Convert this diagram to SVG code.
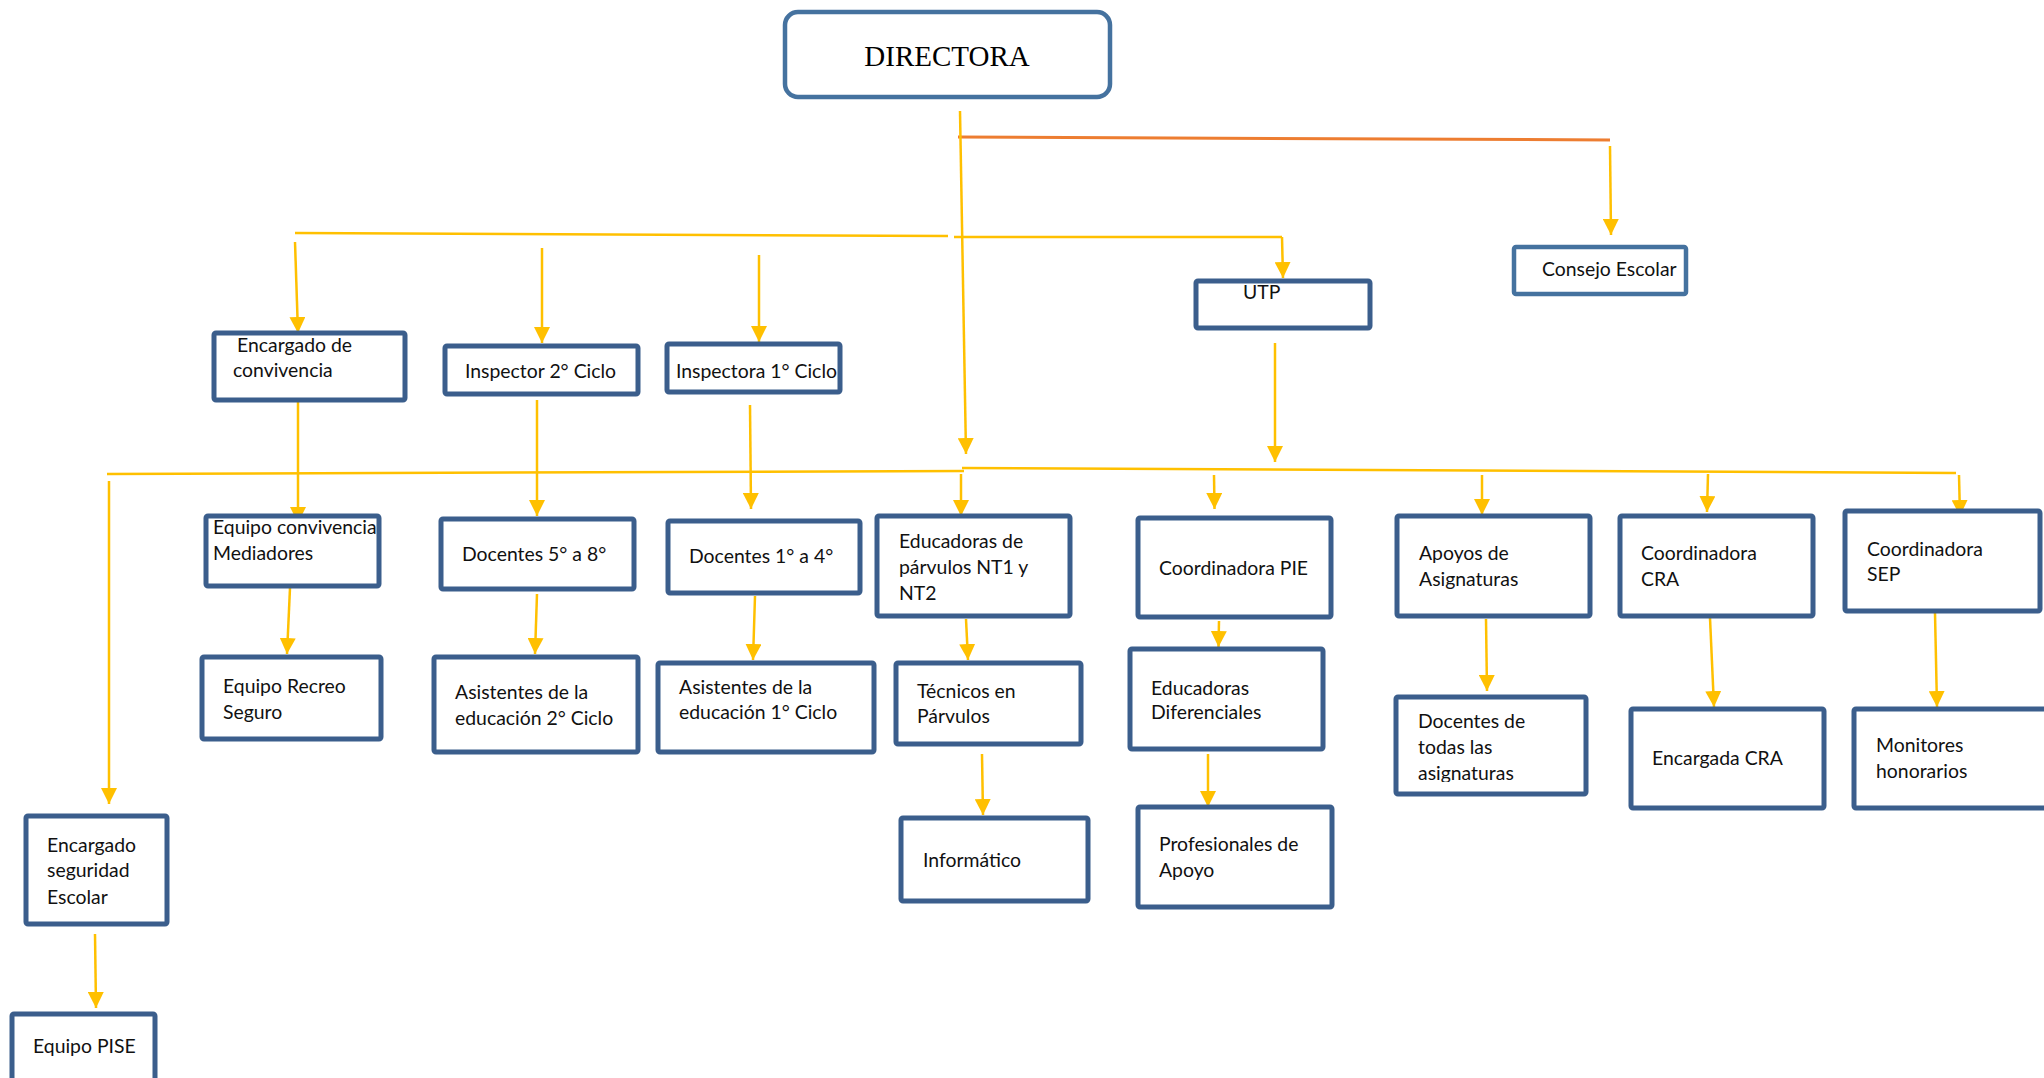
<svg xmlns="http://www.w3.org/2000/svg" width="2044" height="1078" viewBox="0 0 2044 1078">
<defs>
<style>
.box{fill:#ffffff;stroke:#3b5e8c;stroke-width:5;}
.top{fill:#ffffff;stroke:#45729f;stroke-width:4.5;}
.t{font-family:Lato,"Liberation Sans",sans-serif;font-size:19.4px;fill:#111111;}
.dir{font-family:"Liberation Serif","Times New Roman",serif;font-size:29px;fill:#000000;}
.y{stroke:#ffc000;stroke-width:2.5;fill:none;}
.ya{stroke:#ffc000;stroke-width:2.5;fill:none;marker-end:url(#ah);}
.o{stroke:#ed7d31;stroke-width:3;fill:none;}
</style>
<marker id="ah" markerUnits="userSpaceOnUse" markerWidth="16" markerHeight="16" viewBox="0 0 16 16" refX="16" refY="8" orient="auto">
<path d="M0,0 L16,8 L0,16 z" fill="#ffc000"/>
</marker>
<clipPath id="clipDoc"><rect x="1396" y="697" width="190" height="85"/></clipPath>
</defs>

<g id="connectors">
<line class="o" x1="958" y1="137" x2="1610" y2="140"/>
<line class="ya" x1="960" y1="111" x2="966" y2="454"/>
<line class="ya" x1="1610" y1="146" x2="1611" y2="235"/>
<line class="y" x1="295" y1="233" x2="948" y2="236"/>
<polyline class="y" points="954,237 1282,237"/>
<line class="ya" x1="1282" y1="237" x2="1283" y2="278"/>
<line class="ya" x1="295" y1="242" x2="298" y2="333"/>
<line class="ya" x1="542" y1="248" x2="542" y2="343"/>
<line class="ya" x1="759" y1="255" x2="759" y2="342"/>
<line class="ya" x1="1275" y1="343" x2="1275" y2="462"/>
<line class="y" x1="107" y1="474" x2="964" y2="471"/>
<line class="y" x1="962" y1="468" x2="1956" y2="473"/>
<line class="ya" x1="109" y1="481" x2="109" y2="804"/>
<line class="ya" x1="298" y1="386" x2="298" y2="523"/>
<line class="ya" x1="290" y1="588" x2="287" y2="654"/>
<line class="ya" x1="537" y1="400" x2="537" y2="516"/>
<line class="ya" x1="537" y1="594" x2="535" y2="654"/>
<line class="ya" x1="750" y1="405" x2="751" y2="509"/>
<line class="ya" x1="755" y1="596" x2="753" y2="660"/>
<line class="ya" x1="961" y1="474" x2="961" y2="516"/>
<line class="ya" x1="966" y1="619" x2="968" y2="660"/>
<line class="ya" x1="982" y1="754" x2="983" y2="815"/>
<line class="ya" x1="1214" y1="475" x2="1214.5" y2="509"/>
<line class="ya" x1="1219" y1="621" x2="1218.5" y2="647"/>
<line class="ya" x1="1208" y1="754" x2="1208" y2="807"/>
<line class="ya" x1="1482" y1="475" x2="1482" y2="515"/>
<line class="ya" x1="1486" y1="619" x2="1487" y2="691"/>
<line class="ya" x1="1708" y1="474" x2="1707" y2="512"/>
<line class="ya" x1="1710" y1="618" x2="1714" y2="707"/>
<line class="ya" x1="1959" y1="475" x2="1960" y2="516"/>
<line class="ya" x1="1935" y1="613" x2="1937" y2="707"/>
<line class="ya" x1="95" y1="934" x2="96" y2="1008"/>
</g>

<g id="directora">
<rect class="top" x="785" y="12" width="325" height="85" rx="13"/>
<text class="dir" x="947" y="66" text-anchor="middle">DIRECTORA</text>
</g>
<g id="consejo-escolar">
<rect class="top" x="1514" y="247" width="172" height="47" rx="2"/>
<text class="t" x="1542" y="276">Consejo Escolar</text>
</g>
<g id="utp">
<rect class="box" x="1196" y="281" width="174" height="47" rx="2"/>
<text class="t" x="1243" y="299">UTP</text>
</g>
<g id="encargado-convivencia">
<rect class="box" x="214" y="333" width="191" height="67" rx="2"/>
<text class="t" x="237" y="352">Encargado de</text>
<text class="t" x="233" y="377">convivencia</text>
</g>
<g id="inspector-2">
<rect class="box" x="445" y="346" width="193" height="48" rx="2"/>
<text class="t" x="465" y="378">Inspector 2° Ciclo</text>
</g>
<g id="inspectora-1">
<rect class="box" x="667" y="344" width="173" height="48" rx="2"/>
<text class="t" x="676" y="378">Inspectora 1° Ciclo</text>
</g>
<g id="equipo-convivencia">
<rect class="box" x="206" y="516" width="173" height="70" rx="2"/>
<text class="t" x="213" y="534">Equipo convivencia</text>
<text class="t" x="213" y="560">Mediadores</text>
</g>
<g id="equipo-recreo">
<rect class="box" x="202" y="657" width="179" height="82" rx="2"/>
<text class="t" x="223" y="693">Equipo Recreo</text>
<text class="t" x="223" y="719">Seguro</text>
</g>
<g id="docentes-5-8">
<rect class="box" x="441" y="519" width="193" height="70" rx="2"/>
<text class="t" x="462" y="561">Docentes 5° a 8°</text>
</g>
<g id="asistentes-2">
<rect class="box" x="434" y="657" width="204" height="95" rx="2"/>
<text class="t" x="455" y="699">Asistentes de la</text>
<text class="t" x="455" y="725">educación 2° Ciclo</text>
</g>
<g id="encargado-seguridad">
<rect class="box" x="26" y="816" width="141" height="108" rx="2"/>
<text class="t" x="47" y="852">Encargado</text>
<text class="t" x="47" y="877">seguridad</text>
<text class="t" x="47" y="904">Escolar</text>
</g>
<g id="equipo-pise">
<rect class="box" x="12" y="1014" width="143" height="80" rx="2"/>
<text class="t" x="33" y="1053">Equipo PISE</text>
</g>
<g id="docentes-1-4">
<rect class="box" x="668" y="521" width="192" height="72" rx="2"/>
<text class="t" x="689" y="563">Docentes 1° a 4°</text>
</g>
<g id="asistentes-1">
<rect class="box" x="658" y="663" width="216" height="89" rx="2"/>
<text class="t" x="679" y="694">Asistentes de la</text>
<text class="t" x="679" y="719">educación 1° Ciclo</text>
</g>
<g id="educadoras-parvulos">
<rect class="box" x="877" y="516" width="193" height="100" rx="2"/>
<text class="t" x="899" y="548">Educadoras de</text>
<text class="t" x="899" y="574">párvulos NT1 y</text>
<text class="t" x="899" y="600">NT2</text>
</g>
<g id="tecnicos-parvulos">
<rect class="box" x="896" y="663" width="185" height="81" rx="2"/>
<text class="t" x="917" y="698">Técnicos en</text>
<text class="t" x="917" y="723">Párvulos</text>
</g>
<g id="informatico">
<rect class="box" x="901" y="818" width="187" height="83" rx="2"/>
<text class="t" x="923" y="867">Informático</text>
</g>
<g id="coordinadora-pie">
<rect class="box" x="1138" y="518" width="193" height="99" rx="2"/>
<text class="t" x="1159" y="575">Coordinadora PIE</text>
</g>
<g id="educadoras-diferenciales">
<rect class="box" x="1130" y="649" width="193" height="100" rx="2"/>
<text class="t" x="1151" y="695">Educadoras</text>
<text class="t" x="1151" y="719">Diferenciales</text>
</g>
<g id="profesionales-apoyo">
<rect class="box" x="1138" y="807" width="194" height="100" rx="2"/>
<text class="t" x="1159" y="851">Profesionales de</text>
<text class="t" x="1159" y="877">Apoyo</text>
</g>
<g id="apoyos-asignaturas">
<rect class="box" x="1397" y="516" width="193" height="100" rx="2"/>
<text class="t" x="1419" y="560">Apoyos de</text>
<text class="t" x="1419" y="586">Asignaturas</text>
</g>
<g id="docentes-todas">
<rect class="box" x="1396" y="697" width="190" height="97" rx="2"/>
<g clip-path="url(#clipDoc)">
<text class="t" x="1418" y="728">Docentes de</text>
<text class="t" x="1418" y="754">todas las</text>
<text class="t" x="1418" y="780">asignaturas</text>
</g>
</g>
<g id="coordinadora-cra">
<rect class="box" x="1620" y="516" width="193" height="100" rx="2"/>
<text class="t" x="1641" y="560">Coordinadora</text>
<text class="t" x="1641" y="586">CRA</text>
</g>
<g id="encargada-cra">
<rect class="box" x="1631" y="709" width="193" height="99" rx="2"/>
<text class="t" x="1652" y="765">Encargada CRA</text>
</g>
<g id="coordinadora-sep">
<rect class="box" x="1845" y="511" width="195" height="100" rx="2"/>
<text class="t" x="1867" y="556">Coordinadora</text>
<text class="t" x="1867" y="581">SEP</text>
</g>
<g id="monitores">
<rect class="box" x="1854" y="709" width="200" height="99" rx="2"/>
<text class="t" x="1876" y="752">Monitores</text>
<text class="t" x="1876" y="778">honorarios</text>
</g>
</svg>
